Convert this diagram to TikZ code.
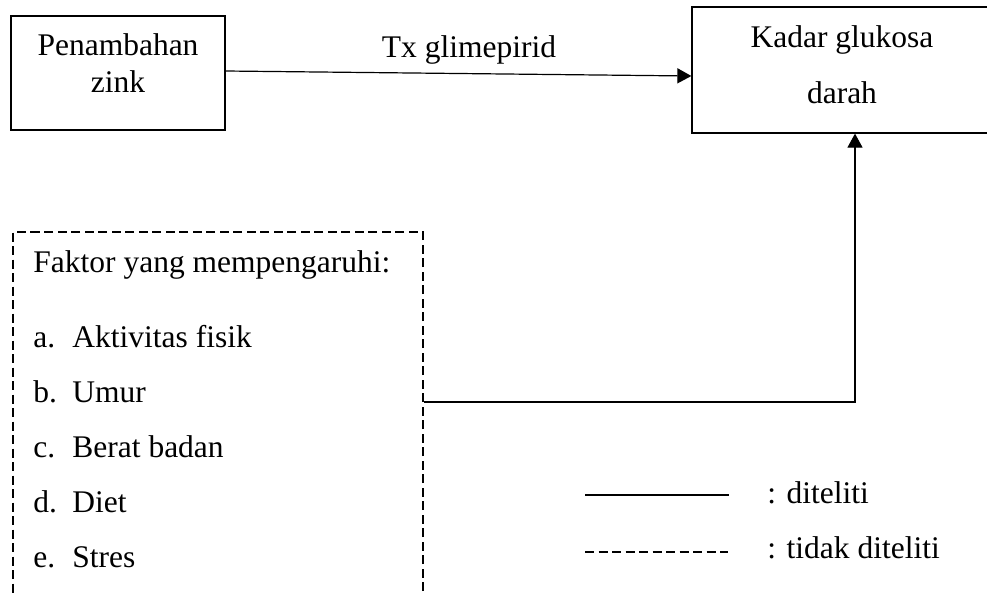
\documentclass[tikz,border=0pt]{standalone}
\usepackage{fontspec}
\setmainfont{Liberation Serif}
\usetikzlibrary{arrows.meta}
\tikzstyle{teks}=[font=\fontsize{15.75pt}{18.5pt}\selectfont, inner sep=0pt]
\tikzstyle{kotak}=[draw, line width=0.6pt, inner sep=0pt]
\tikzstyle{putus}=[line width=0.6pt, dash pattern=on 4.5pt off 2.25pt]
\tikzstyle{panah}=[line width=0.6pt, -{Triangle[length=7pt, width=7.5pt]}]

\begin{document}
\begin{tikzpicture}[x=0.5pt, y=-0.5pt, every node/.style={teks}]
	\clip (0,0) rectangle (987,595);
	\fill[white] (0,0) rectangle (987,595);

	% kotak atas
	\node[kotak, minimum width=107pt, minimum height=57pt,
		label = {[label distance=-8.75pt, anchor=north, align=center] north:{Penambahan\\zink}}] (zink) at (118,73) {};
	\node[kotak, minimum width=150pt, minimum height=63pt,
		label = {[label distance=-9.25pt, anchor=north, align=center,
			font=\fontsize{15.75pt}{28pt}\selectfont] north:{Kadar glukosa\\darah}}] (kadar) at (842,70) {};

	\draw[panah] ([yshift=1pt]zink.east) -- ([yshift=-3pt]kadar.west);
	\node[anchor=base] (tx) at (469,57) {Tx glimepirid};

	% faktor yang tidak diteliti
	\node[kotak, putus, minimum width=205pt, minimum height=204pt] (faktor) at (218,436) {};
	\node[anchor=base west] (judul) at (33,272) {Faktor yang mempengaruhi:};
	\foreach \huruf/\isi [count=\i] in {a/Aktivitas fisik, b/Umur, c/Berat badan, d/Diet, e/Stres} {
		\node[anchor=base west] (h\i) at (33,{292+55*\i}) {\huruf.};
		\node[anchor=base west] (f\i) at (72,{292+55*\i}) {\isi};
	}

	\coordinate (siku) at (855,402);
	\draw[panah] (faktor.east |- siku) -- (siku) -- (kadar.south -| siku);

	% keterangan
	\node[anchor=base west] (dit) at (767,503) {: diteliti};
	\node[anchor=base west] (tdk) at (767,558) {: tidak diteliti};
	\draw[line width=0.6pt] (dit.base west) ++(-182,-8) -- ++(144,0);
	\draw[putus] (tdk.base west) ++(-182,-6) -- ++(143,0);
\end{tikzpicture}
\end{document}
